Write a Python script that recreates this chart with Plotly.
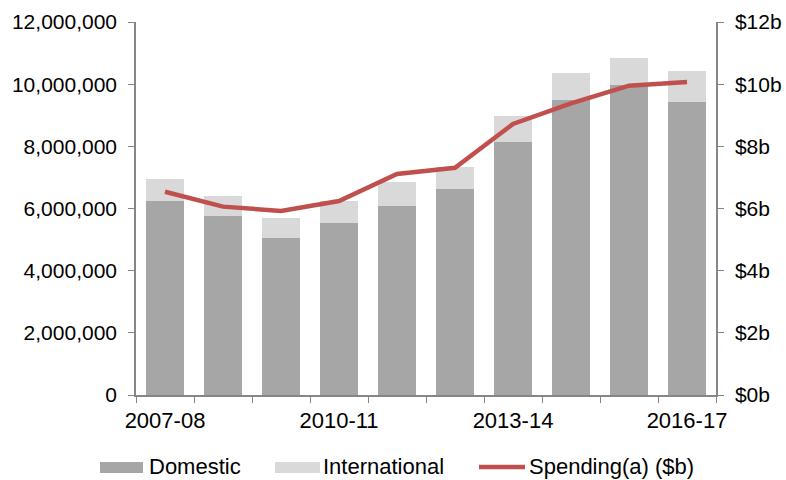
import plotly.graph_objects as go

categories = ["2007-08", "2008-09", "2009-10", "2010-11", "2011-12",
              "2012-13", "2013-14", "2014-15", "2015-16", "2016-17"]
tick_labels = ["2007-08", "", "", "2010-11", "", "", "2013-14", "", "", "2016-17"]
domestic = [6240000, 5760000, 5050000, 5530000, 6080000,
            6630000, 8140000, 9490000, 9970000, 9430000]
international = [710000, 650000, 650000, 710000, 760000,
                 710000, 820000, 880000, 870000, 980000]
spending_b = [6.54, 6.06, 5.92, 6.24, 7.11, 7.31, 8.72, 9.38, 9.95, 10.07]

left_ticks = [0, 2000000, 4000000, 6000000, 8000000, 10000000, 12000000]
right_ticks = [0, 2, 4, 6, 8, 10, 12]
right_labels = ["$0b", "$2b", "$4b", "$6b", "$8b", "$10b", "$12b"]

FONT = "Liberation Sans, Arial, sans-serif"
AXIS_COLOR = "#868686"
C_DOM, C_INT, C_LINE = "#A6A6A6", "#D9D9D9", "#C0504D"
W, H = 786, 480
ML, MR, MT, MB = 136, 70, 22, 85
PW, PH = W - ML - MR, H - MT - MB
FS_Y, FS_X, FS_LEG = 21, 22, 22


def px(x):
    return (x - ML) / PW


def py(y):
    return (H - MB - y) / PH


fig = go.Figure()
fig.add_trace(go.Bar(x=categories, y=domestic, name="Domestic",
                     marker=dict(color=C_DOM, line=dict(width=0))))
fig.add_trace(go.Bar(x=categories, y=international, name="International",
                     marker=dict(color=C_INT, line=dict(width=0))))
fig.add_trace(go.Scatter(x=categories, y=spending_b, name="Spending(a) ($b)",
                         mode="lines", yaxis="y2",
                         line=dict(color=C_LINE, width=4.5)))

# custom legend (Excel style wide swatches)
shapes = [
    dict(type="rect", xref="paper", yref="paper", x0=px(100), x1=px(143),
         y0=py(462), y1=py(473), fillcolor=C_DOM, line=dict(width=0)),
    dict(type="rect", xref="paper", yref="paper", x0=px(275), x1=px(320),
         y0=py(462), y1=py(473), fillcolor=C_INT, line=dict(width=0)),
    dict(type="line", xref="paper", yref="paper", x0=px(479), x1=px(525),
         y0=py(467), y1=py(467), line=dict(color=C_LINE, width=4.5)),
]
annotations = [
    dict(text="Domestic", x=px(147), y=py(467)),
    dict(text="International", x=px(321), y=py(467)),
    dict(text="Spending(a) ($b)", x=px(527), y=py(467)),
]
for a in annotations:
    a.update(xref="paper", yref="paper", xanchor="left", yanchor="middle",
             showarrow=False, font=dict(size=FS_LEG, family=FONT, color="#000000"))

fig.update_layout(
    width=W, height=H,
    margin=dict(l=ML, r=MR, t=MT, b=MB),
    paper_bgcolor="white", plot_bgcolor="white",
    barmode="stack", bargap=0.36,
    font=dict(family=FONT, size=FS_Y, color="#000000"),
    showlegend=False,
    shapes=shapes, annotations=annotations,
    xaxis=dict(
        type="category", automargin=False,
        tickvals=categories, ticktext=tick_labels, tickangle=0,
        tickson="boundaries",
        ticks="outside", ticklen=6, tickcolor=AXIS_COLOR, tickwidth=1,
        showline=True, linecolor=AXIS_COLOR, linewidth=1.5,
        showgrid=False, zeroline=False, ticklabelstandoff=5,
        tickfont=dict(size=FS_X),
    ),
    yaxis=dict(
        range=[0, 12000000], tickvals=left_ticks, tickformat=",d",
        automargin=False,
        ticks="outside", ticklen=6, tickcolor=AXIS_COLOR, tickwidth=1,
        showline=True, linecolor=AXIS_COLOR, linewidth=1.5,
        showgrid=False, zeroline=False, ticklabelstandoff=7,
        tickfont=dict(size=FS_Y),
    ),
    yaxis2=dict(
        overlaying="y", side="right", automargin=False,
        range=[0, 12], tickvals=right_ticks, ticktext=right_labels,
        ticks="outside", ticklen=6, tickcolor=AXIS_COLOR, tickwidth=1,
        showline=True, linecolor=AXIS_COLOR, linewidth=1.5,
        showgrid=False, zeroline=False, ticklabelstandoff=7,
        tickfont=dict(size=FS_Y),
    ),
)

fig.write_html(
    "out.html",
    config={"displayModeBar": False},
    post_script="document.body.style.margin='0';document.body.style.overflow='hidden';",
)
